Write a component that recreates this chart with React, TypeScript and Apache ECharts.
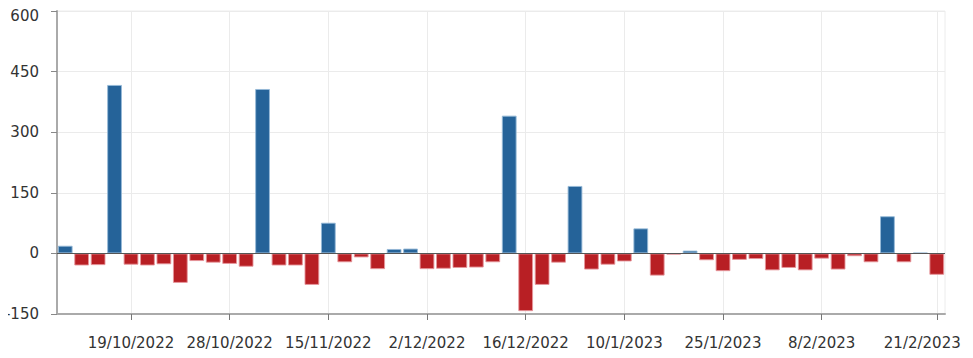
import React, { useEffect, useRef } from "react";
import * as echarts from "echarts";

const categories: string[] = [
  "13/10/2022", "14/10/2022", "17/10/2022", "18/10/2022", "19/10/2022",
  "20/10/2022", "21/10/2022", "24/10/2022", "25/10/2022", "27/10/2022",
  "28/10/2022", "1/11/2022", "3/11/2022", "8/11/2022", "10/11/2022",
  "14/11/2022", "15/11/2022", "17/11/2022", "22/11/2022", "24/11/2022",
  "29/11/2022", "1/12/2022", "2/12/2022", "6/12/2022", "8/12/2022",
  "9/12/2022", "13/12/2022", "15/12/2022", "16/12/2022", "20/12/2022",
  "22/12/2022", "29/12/2022", "3/1/2023", "5/1/2023", "10/1/2023",
  "12/1/2023", "13/1/2023", "17/1/2023", "19/1/2023", "24/1/2023",
  "25/1/2023", "26/1/2023", "31/1/2023", "1/2/2023", "2/2/2023",
  "7/2/2023", "8/2/2023", "9/2/2023", "10/2/2023", "14/2/2023",
  "15/2/2023", "16/2/2023", "17/2/2023", "21/2/2023",
];

const values: number[] = [
  19, -30, -29, 417, -28, -30, -27, -73, -19, -23,
  -26, -33, 407, -30, -30, -78, 76, -22, -10, -39,
  11, 12, -39, -38, -36, -35, -22, 341, -143, -78,
  -23, 167, -40, -28, -20, 62, -55, -3, 7, -17,
  -44, -16, -14, -42, -36, -42, -13, -40, -7, -22,
  92, -22, 1.5, -53,
];

const labelIndices: number[] = [4, 10, 16, 22, 28, 34, 40, 46, 53];

const yMin = -150;
const yMax = 600;
const yStep = 150;

const POS = "#256399";
const NEG = "#b81f24";
const FONT = "DejaVu Sans";
const FS = 15;
const TXT = "#333333";

export default function App() {
  const ref = useRef<HTMLDivElement>(null);
  useEffect(() => {
    if (!ref.current) return;
    const chart = echarts.init(ref.current, undefined, { renderer: "svg" });
    const showAt = (i: number) => labelIndices.indexOf(i) >= 0;
    const lastIdx = categories.length - 1;
    const txt = { fontFamily: FONT, fontSize: FS, color: TXT };
    chart.setOption({
      animation: false,
      grid: {
        left: 57,
        right: 28,
        top: 11,
        bottom: 44,
        outerBoundsMode: "none",
        containLabel: false,
        show: true,
        borderColor: "#ececec",
        borderWidth: 1,
      },
      xAxis: {
        type: "category",
        data: categories,
        boundaryGap: true,
        axisLine: { onZero: false, lineStyle: { color: "#aaaaaa", width: 2 } },
        axisTick: {
          show: true,
          alignWithLabel: true,
          interval: (i: number) => showAt(i),
          length: 6,
          lineStyle: { color: "#777777", width: 1 },
        },
        axisLabel: {
          interval: (i: number) => showAt(i),
          margin: 21,
          ...txt,
          hideOverlap: false,
          formatter: (val: string, idx: number) =>
            idx === lastIdx ? `{last|${val}}` : `{n|${val}}`,
          rich: {
            n: { ...txt },
            last: { ...txt, padding: [0, 29, 0, 0] },
          },
        },
        splitLine: {
          show: true,
          alignWithLabel: true,
          interval: (i: number) => showAt(i),
          lineStyle: { color: "#ebebeb", width: 1 },
        },
      },
      yAxis: {
        type: "value",
        min: yMin,
        max: yMax,
        interval: yStep,
        axisLine: { show: true, lineStyle: { color: "#aaaaaa", width: 2 } },
        axisTick: { show: true, length: 6, lineStyle: { color: "#888888" } },
        axisLabel: {
          margin: 18,
          ...txt,
          formatter: (v: number) =>
            v === yMax ? `{top|${v}}` : `{n|${v}}`,
          rich: {
            n: { ...txt },
            top: { ...txt, padding: [9, 0, 0, 0] },
          },
        },
        splitLine: { show: true, lineStyle: { color: "#ebebeb", width: 1 } },
      },
      series: [
        {
          type: "bar",
          data: values.map((v) => ({
            value: v,
            itemStyle: {
              color: v >= 0 ? POS : NEG,
              borderColor: v >= 0 ? "rgba(150,185,215,0.9)" : "rgba(230,150,155,0.9)",
              borderWidth: 1,
            },
          })),
          barCategoryGap: "10%",
          markLine: {
            silent: true,
            symbol: "none",
            label: { show: false },
            lineStyle: { color: "#555555", width: 1, type: "solid" },
            data: [{ yAxis: 0 }],
          },
        },
      ],
    });
    return () => chart.dispose();
  }, []);
  return (
    <div
      ref={ref}
      style={{ width: 973, height: 358, marginLeft: -8, marginTop: -8 }}
    />
  );
}
